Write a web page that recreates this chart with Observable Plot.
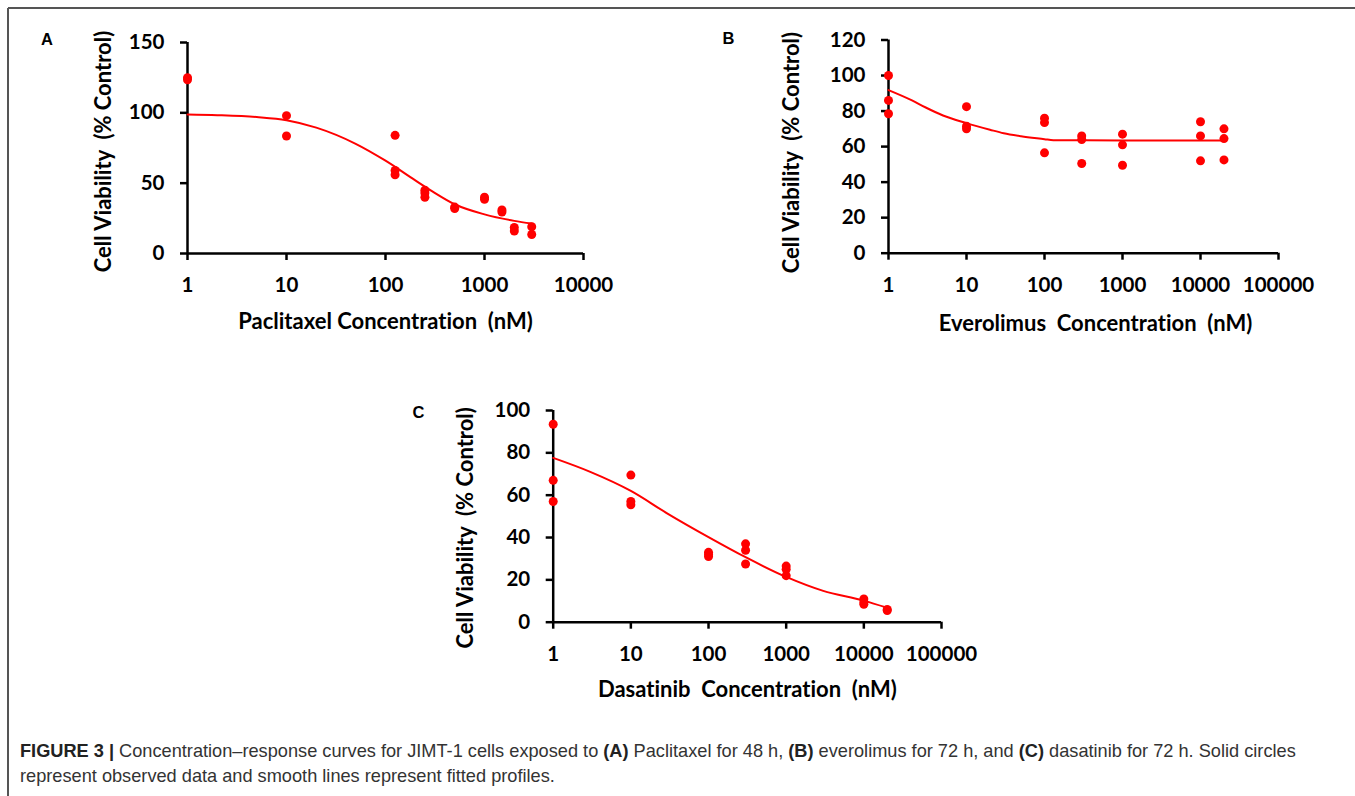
<!DOCTYPE html>
<html><head><meta charset="utf-8">
<script src="https://cdn.jsdelivr.net/npm/d3@7"></script>
<script src="https://cdn.jsdelivr.net/npm/@observablehq/plot@0.6"></script>
<style>
html,body{margin:0;padding:0;background:#fff;}
#page{position:relative;width:1355px;height:796px;overflow:hidden;background:#fff;}
.panel{position:absolute;}
.panel svg{font-variant-ligatures:none;}
#caption{position:absolute;left:20px;top:739px;font-family:"Liberation Sans",Arial,sans-serif;font-size:18.2px;line-height:25px;color:#333;white-space:nowrap;}
#caption b{color:#222;}
</style></head><body>
<div id="page">
  <div id="pA" class="panel" style="left:0px;top:0px"></div>
  <div id="pB" class="panel" style="left:680px;top:0px"></div>
  <div id="pC" class="panel" style="left:400px;top:390px"></div>
  <svg id="overlay" width="1355" height="796" style="position:absolute;left:0;top:0;pointer-events:none">
    <line x1="8" y1="8" x2="1355" y2="8" stroke="#555" stroke-width="2"/>
    <line x1="8" y1="8" x2="8" y2="796" stroke="#555" stroke-width="2"/>
    <g font-family="Liberation Sans, Arial, sans-serif" font-weight="bold" font-size="16.5" fill="#000">
      <text x="41" y="45">A</text>
      <text x="722.5" y="44">B</text>
      <text x="412.5" y="418">C</text>
    </g>
  </svg>
  <div id="caption"><b>FIGURE 3 |</b> Concentration–response curves for JIMT-1 cells exposed to <b>(A)</b> Paclitaxel for 48 h, <b>(B)</b> everolimus for 72 h, and <b>(C)</b> dasatinib for 72 h. Solid circles<br>represent observed data and smooth lines represent fitted profiles.</div>
</div>
<script>
// ---- Panel A: Paclitaxel ----
const paclitaxelDose = [1,1,10,10,125,125,125,250,250,250,500,500,1000,1000,1500,1500,2000,2000,3000,3000];
const paclitaxelViability = [125,123.5,98,83.5,84,59,56,45,43,40,33,32,40,38.5,31,29.5,18.5,16,19,13.5];
const paclitaxelFitDose = [1,2,5,10,20,50,100,200,300,500,1000,2000,3000];
const paclitaxelFitViability = [98.8,98.3,97,94.8,89.5,78,66,52,44,35,27.8,23.2,21.3];
const paclitaxelXTicks = [1,10,100,1000,10000];
const paclitaxelYTicks = [0,50,100,150];

// ---- Panel B: Everolimus ----
const everolimusDose = [1,1,1,10,10,10,100,100,100,300,300,300,1000,1000,1000,10000,10000,10000,20000,20000,20000];
const everolimusViability = [100,86,78.5,82.5,71.5,70,76,73.5,56.5,66,64,50.5,67,61,49.5,74,66,52,70,64.5,52.5];
const everolimusFitDose = [1,2,3,5,10,20,30,50,100,130,1000,10000,20000];
const everolimusFitViability = [91.8,86,82,77.5,73.2,69.5,67.5,65.8,64.2,63.6,63.5,63.4,63.4];
const everolimusXTicks = [1,10,100,1000,10000,100000];
const everolimusYTicks = [0,20,40,60,80,100,120];

// ---- Panel C: Dasatinib ----
const dasatinibDose = [1,1,1,10,10,10,100,100,100,300,300,300,1000,1000,1000,10000,10000,10000,20000,20000];
const dasatinibViability = [93.5,67,57,69.5,57,55.5,33,32,31,37,34,27.5,26.5,25,22,11,9.5,8.5,6,5.5];
const dasatinibFitDose = [1,3,10,30,100,300,1000,3000,10000,20000];
const dasatinibFitViability = [77.6,71,62,51.2,40.2,30.7,21.4,14.8,10.2,6.8];
const dasatinibXTicks = [1,10,100,1000,10000,100000];
const dasatinibYTicks = [0,20,40,60,80,100];

const RED = "#ff0000";

function panel(o) {
  const pts = o.dose.map((d, i) => ({dose: d, v: o.viab[i]}));
  const fit = o.fitDose.map((d, i) => ({dose: d, v: o.fitViab[i]}));
  const xMax = o.xTicks[o.xTicks.length - 1];
  const yMax = o.yTicks[o.yTicks.length - 1];
  return Plot.plot({
    width: o.width, height: o.height,
    marginLeft: o.ml, marginRight: o.mr, marginTop: o.mt, marginBottom: o.mb,
    x: {type: "log", domain: [1, xMax]},
    y: {domain: [0, yMax]},
    style: {fontFamily: "Lato, 'Open Sans', sans-serif", fontWeight: "bold", fontSize: "20.5px", color: "#000", background: "transparent", overflow: "visible"},
    marks: [
      Plot.axisY({ticks: o.yTicks, tickSize: 7, tickPadding: 16, strokeWidth: 2.5, fontSize: 20.5, label: null, tickFormat: d => String(d)}),
      Plot.axisX({ticks: o.xTicks, tickSize: 7, tickPadding: 17, strokeWidth: 2.5, fontSize: 20.5, label: null, tickFormat: d => String(d)}),
      Plot.ruleX([1], {stroke: "#000", strokeWidth: 2.5}),
      Plot.ruleY([0], {stroke: "#000", strokeWidth: 2.5}),
      Plot.line(fit, {x: "dose", y: "v", stroke: RED, strokeWidth: 2, curve: "monotone-x"}),
      Plot.dot(pts, {x: "dose", y: "v", r: 4.5, fill: RED, stroke: "none"}),
      Plot.text([o.yLabel], {frameAnchor: "left", textAnchor: "middle", lineAnchor: "middle", rotate: -90, dx: o.yldx, dy: o.yldy, fontSize: 22, fill: "#000", letterSpacing: "0.5px"}),
      Plot.text([o.xLabel], {frameAnchor: "bottom", textAnchor: "middle", lineAnchor: "middle", dx: o.xldx, dy: o.xldy, fontSize: 22, fill: "#000", letterSpacing: "0.7px"})
    ]
  });
}

const yLab = "Cell Viability\u00a0 (% Control)";

document.getElementById("pA").appendChild(panel({
  dose: paclitaxelDose, viab: paclitaxelViability, fitDose: paclitaxelFitDose, fitViab: paclitaxelFitViability,
  xTicks: paclitaxelXTicks, yTicks: paclitaxelYTicks,
  width: 620, height: 340, ml: 187, mr: 37, mt: 42, mb: 87,
  yLabel: yLab, yldx: -84, yldy: 3.5,
  xLabel: "Paclitaxel Concentration\u00a0 (nM)", xldx: 0, xldy: 68
}));

document.getElementById("pB").appendChild(panel({
  dose: everolimusDose, viab: everolimusViability, fitDose: everolimusFitDose, fitViab: everolimusFitViability,
  xTicks: everolimusXTicks, yTicks: everolimusYTicks,
  width: 675, height: 340, ml: 208, mr: 77, mt: 39.5, mb: 87.3,
  yLabel: yLab, yldx: -97, yldy: 6,
  xLabel: "Everolimus\u00a0 Concentration\u00a0 (nM)", xldx: 12, xldy: 71
}));

document.getElementById("pC").appendChild(panel({
  dose: dasatinibDose, viab: dasatinibViability, fitDose: dasatinibFitDose, fitViab: dasatinibFitViability,
  xTicks: dasatinibXTicks, yTicks: dasatinibYTicks,
  width: 600, height: 320, ml: 152.7, mr: 59, mt: 20, mb: 88.3,
  yLabel: yLab, yldx: -87, yldy: 11.5,
  xLabel: "Dasatinib\u00a0 Concentration\u00a0 (nM)", xldx: 0, xldy: 68
}));
</script>
</body></html>
